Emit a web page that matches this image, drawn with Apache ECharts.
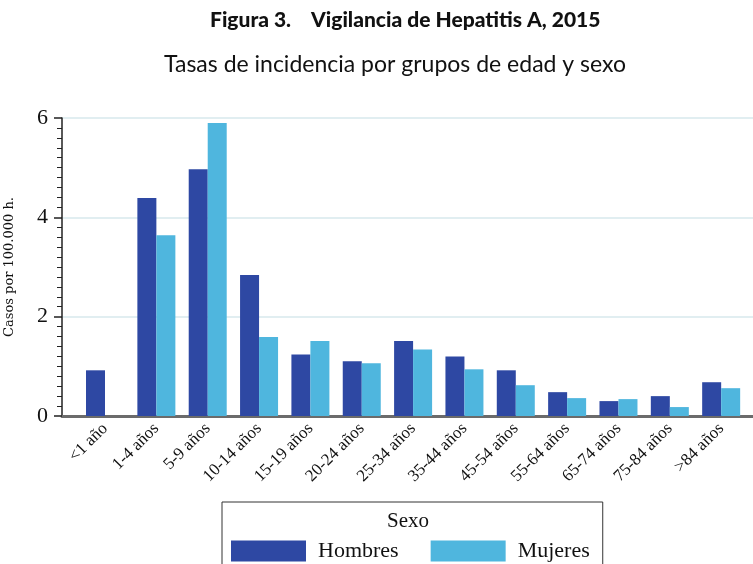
<!DOCTYPE html>
<html>
<head>
<meta charset="utf-8">
<script src="https://cdn.jsdelivr.net/npm/echarts@6/dist/echarts.min.js"></script>
<style>
  html, body { margin: 0; padding: 0; background: #fff; }
  #chart { width: 753px; height: 564px; }
</style>
</head>
<body>
<div id="chart"></div>
<script>
// grupos de edad
var grupos = ['<1 año', '1-4 años', '5-9 años', '10-14 años', '15-19 años', '20-24 años',
  '25-34 años', '35-44 años', '45-54 años', '55-64 años', '65-74 años', '75-84 años', '>84 años'];
// tasas por 100.000 h.
var hombres = [0.92, 4.39, 4.97, 2.84, 1.24, 1.10, 1.51, 1.20, 0.92, 0.48, 0.30, 0.40, 0.68];
var mujeres = [0, 3.64, 5.90, 1.59, 1.51, 1.06, 1.34, 0.94, 0.62, 0.36, 0.34, 0.18, 0.56];
var yTicks = [0, 2, 4, 6];

var serif = '"Liberation Serif", serif';
var sans = 'Lato, "Noto Sans", sans-serif';

function pares(arr) {
  return arr.map(function (v, i) { return [i, v]; });
}

var chart = echarts.init(document.getElementById('chart'));
var option = {
  backgroundColor: '#fff',
  animation: false,
  title: [{
    text: 'Figura 3.    Vigilancia de Hepatitis A, 2015',
    left: 210,
    top: 10,
    padding: 0,
    textStyle: { fontFamily: sans, fontSize: 21, fontWeight: 900, color: '#111' }
  }, {
    text: 'Tasas de incidencia por grupos de edad y sexo',
    left: 164,
    top: 53,
    padding: 0,
    textStyle: { fontFamily: sans, fontSize: 23, fontWeight: 'normal', color: '#111' }
  }, {
    text: 'Sexo',
    left: 387,
    top: 511,
    padding: 0,
    textStyle: { fontFamily: serif, fontSize: 21, fontWeight: 'normal', color: '#111' }
  }],
  legend: {
    data: ['Hombres', 'Mujeres'],
    left: 222,
    top: 502,
    icon: 'rect',
    itemWidth: 75,
    itemHeight: 21,
    itemGap: 32,
    padding: [38, 13, 40, 9],
    borderColor: '#333',
    borderWidth: 1,
    textStyle: { fontFamily: serif, fontSize: 22, color: '#111', padding: [0, 0, 0, 7] }
  },
  grid: {
    left: 62,
    right: 0,
    top: 118,
    bottom: 148,
    outerBoundsMode: 'none'
  },
  xAxis: {
    type: 'value',
    min: -0.838,
    max: 12.62,
    axisLine: { show: true, onZero: false, lineStyle: { color: '#6b6b6b', width: 3 } },
    axisTick: { show: false },
    splitLine: { show: false },
    axisLabel: {
      customValues: grupos.map(function (g, i) { return i; }),
      formatter: function (v) { return grupos[v]; },
      rotate: 45,
      margin: 10,
      fontFamily: serif,
      fontSize: 17,
      color: '#111'
    }
  },
  yAxis: {
    type: 'value',
    min: 0,
    max: 6,
    interval: 2,
    name: 'Casos por 100.000 h.',
    nameLocation: 'middle',
    nameRotate: 90,
    nameGap: 46,
    nameTextStyle: { fontFamily: '"DejaVu Serif", serif', fontSize: 13, color: '#111' },
    axisLine: { show: true, onZero: false, lineStyle: { color: '#222', width: 1.5 } },
    axisTick: { show: true, length: 8, lineStyle: { color: '#222', width: 1.5 } },
    minorTick: { show: true, splitNumber: 10, length: 5, lineStyle: { color: '#222', width: 1 } },
    splitLine: { show: true, lineStyle: { color: '#e1eef1', width: 2 } },
    axisLabel: {
      customValues: yTicks,
      margin: 14,
      fontFamily: serif,
      fontSize: 22,
      color: '#111'
    }
  },
  series: [{
    name: 'Hombres',
    type: 'bar',
    data: pares(hombres),
    barWidth: 19,
    barGap: '0%',
    itemStyle: { color: '#2e48a3' }
  }, {
    name: 'Mujeres',
    type: 'bar',
    data: pares(mujeres),
    barWidth: 19,
    barGap: '0%',
    itemStyle: { color: '#4fb6de' }
  }]
};
chart.setOption(option);
</script>
</body>
</html>
